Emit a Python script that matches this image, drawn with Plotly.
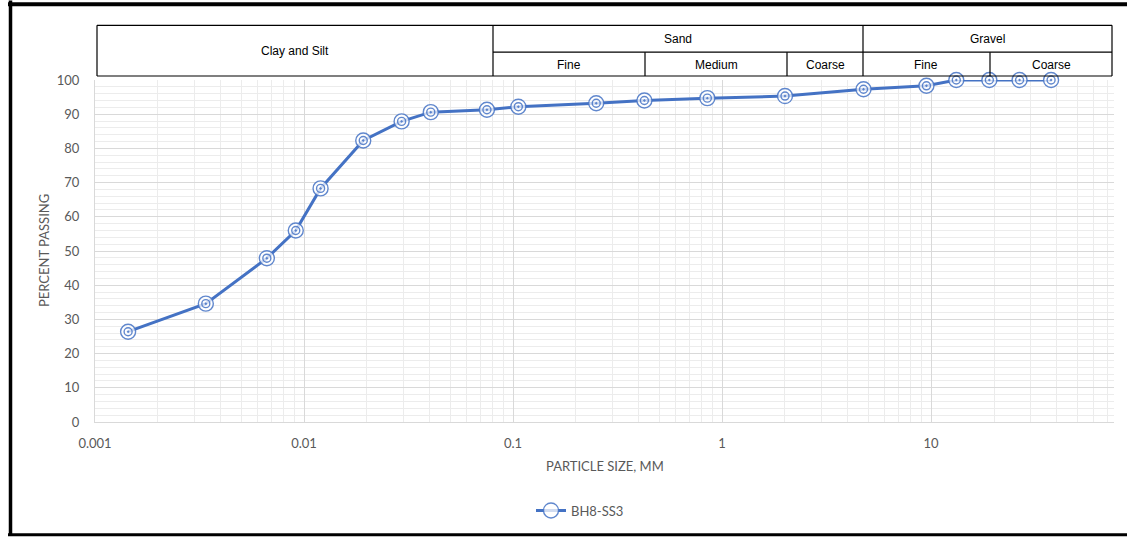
import plotly.graph_objects as go
import math

# ---------------- data ----------------
particle_size_mm = [0.00144, 0.00339, 0.00664, 0.00913, 0.0120, 0.0192, 0.0293, 0.0404,
                    0.075, 0.106, 0.25, 0.425, 0.85, 2.0, 4.75, 9.5, 13.2, 19.0, 26.5, 37.5]
percent_passing = [26.4, 34.6, 47.9, 56.0, 68.3, 82.3, 87.9, 90.6,
                   91.3, 92.2, 93.2, 94.0, 94.7, 95.3, 97.3, 98.3, 100, 100, 100, 100]
series_name = "BH8-SS3"

x_tick_vals = [0.001, 0.01, 0.1, 1, 10]
x_tick_text = ["0.001", "0.01", "0.1", "1", "10"]
y_tick_vals = [0, 10, 20, 30, 40, 50, 60, 70, 80, 90, 100]

header_top = ["Clay and Silt", "Sand", "Gravel"]
header_sub = ["Fine", "Medium", "Coarse", "Fine", "Coarse"]

# ---------------- layout geometry (pixels) ----------------
W, H = 1127, 538
L, R, T, B = 95, 1114, 80, 424


def fx(x):
    return (x - L) / (R - L)


def fy(y):
    return (B - y) / (B - T)


BLUE = "#4472C4"
RING = "rgba(68,114,196,0.85)"
GREY = "#595959"
FONT = "Lato"

fig = go.Figure()
fig.add_trace(go.Scatter(
    x=particle_size_mm, y=percent_passing, mode="lines+markers", name=series_name,
    line=dict(color=BLUE, width=3),
    marker=dict(symbol="circle", size=15, color="rgba(255,255,255,0.75)",
                line=dict(color=RING, width=1.4)),
    showlegend=True, cliponaxis=False,
))
fig.add_trace(go.Scatter(
    x=particle_size_mm, y=percent_passing, mode="markers", name=series_name,
    marker=dict(symbol="circle-open-dot", size=8, color=RING,
                line=dict(color=RING, width=1.4)),
    showlegend=False, hoverinfo="skip", cliponaxis=False,
))

shapes = []


def line(x0, y0, x1, y1, w=1.2, c="black"):
    shapes.append(dict(type="line", xref="paper", yref="paper",
                       x0=fx(x0), y0=fy(y0), x1=fx(x1), y1=fy(y1),
                       line=dict(color=c, width=w), layer="above"))


# header table
tl, tr, ttop, tmid, tbot = 97, 1112, 25, 52, 76
line(tl, ttop, tr, ttop)
line(tl, tbot, tr, tbot)
line(tl, ttop, tl, tbot)
line(tr, ttop, tr, tbot)
line(493, ttop, 493, tbot)
line(863, ttop, 863, tbot)
line(493, tmid, tr, tmid)
for xv in (645, 787, 990):
    line(xv, tmid, xv, tbot)

# outer black frame
line(10.5, 0, 10.5, H, w=3.5)
line(8, 3.8, W + 5, 3.8, w=4)
line(8, 537.3, W + 5, 537.3, w=3)

annotations = []


def text(x, y, s, size=12, color="black", family="Liberation Sans", angle=0):
    annotations.append(dict(xref="paper", yref="paper", x=fx(x), y=fy(y), text=s,
                            showarrow=False, xanchor="center", yanchor="middle",
                            textangle=angle,
                            font=dict(family=family, size=size, color=color)))


text(295, 51, header_top[0])
text(678, 39, header_top[1])
text(987, 39, header_top[2])
for xc, s in zip((569, 716, 825, 926, 1051), header_sub):
    text(xc, 65, s)

# axis titles
text(605, 468, "PARTICLE SIZE, MM", size=13, color=GREY, family=FONT)
text(44, 252, "PERCENT PASSING", size=13, color=GREY, family=FONT, angle=-90)

fig.update_layout(
    width=W, height=H,
    margin=dict(l=L, r=W - R, t=T, b=H - B, pad=0),
    paper_bgcolor="white", plot_bgcolor="white",
    shapes=shapes, annotations=annotations,
    font=dict(family=FONT, size=13, color=GREY),
    legend=dict(orientation="h", x=fx(580), y=fy(513), xanchor="center", yanchor="middle",
                font=dict(family=FONT, size=13, color=GREY), itemwidth=30,
                bgcolor="rgba(0,0,0,0)"),
)

fig.update_xaxes(
    type="log", range=[math.log10(0.001), math.log10(75)],
    tickmode="array", tickvals=x_tick_vals, ticktext=x_tick_text,
    ticks="outside", ticklen=9, tickcolor="rgba(0,0,0,0)",
    showgrid=True, gridcolor="#d9d9d9", gridwidth=1,
    showline=True, linecolor="#d9d9d9", linewidth=1,
    minor=dict(dtick="D1", showgrid=True, gridcolor="#ececec", gridwidth=1, ticks=""),
    zeroline=False,
    tickfont=dict(family=FONT, size=13, color=GREY),
)
fig.update_yaxes(
    range=[0, 100], tickmode="array", tickvals=y_tick_vals,
    ticks="outside", ticklen=12, tickcolor="rgba(0,0,0,0)",
    showgrid=True, gridcolor="#d9d9d9", gridwidth=1,
    showline=True, linecolor="#d9d9d9", linewidth=1,
    minor=dict(dtick=2, showgrid=True, gridcolor="#ececec", gridwidth=1, ticks=""),
    zeroline=False,
    tickfont=dict(family=FONT, size=13, color=GREY),
)

fig.write_html(
    "out.html",
    config={"displayModeBar": False},
    post_script="document.body.style.margin='0';document.body.style.overflow='hidden';",
)
